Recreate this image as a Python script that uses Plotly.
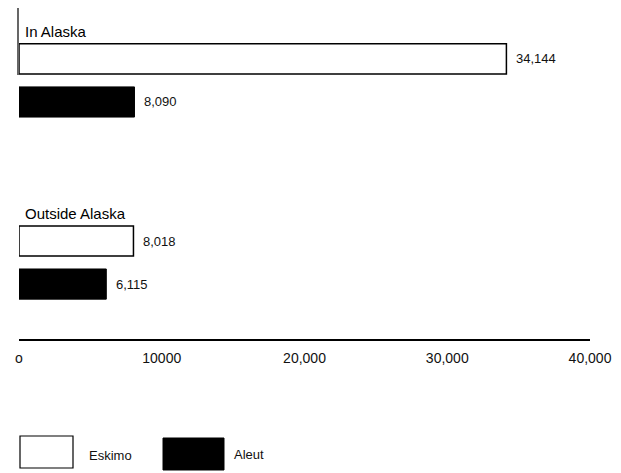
import plotly.graph_objects as go

groups = ["In Alaska", "Outside Alaska"]
eskimo = [34144, 8018]
aleut = [8090, 6115]
tick_vals = [0, 10000, 20000, 30000, 40000]
tick_text = ["o", "10000", "20,000", "30,000", "40,000"]

FONT = "Liberation Sans, Arial, sans-serif"

fig = go.Figure()
fig.add_trace(go.Bar(
    y=groups, x=eskimo, orientation="h", name="Eskimo",
    marker=dict(color="white", line=dict(color="black", width=1.5)),
    showlegend=False, hoverinfo="x+y",
))
fig.add_trace(go.Bar(
    y=groups, x=aleut, orientation="h", name="Aleut",
    marker=dict(color="black", line=dict(color="black", width=1)),
    showlegend=False, hoverinfo="x+y",
))

annotations = []
for i, g in enumerate(groups):
    annotations.append(dict(x=eskimo[i], y=g, text=f"{eskimo[i]:,}", xanchor="left",
                            yanchor="middle", showarrow=False, xshift=8, yshift=21.5,
                            font=dict(size=13, color="#111")))
    annotations.append(dict(x=aleut[i], y=g, text=f"{aleut[i]:,}", xanchor="left",
                            yanchor="middle", showarrow=False, xshift=8, yshift=-21.5,
                            font=dict(size=13, color="#111")))
for g in groups:
    annotations.append(dict(x=0, y=g, text=g, xanchor="left", yanchor="middle",
                            showarrow=False, xshift=4, yshift=49,
                            font=dict(size=15, color="black")))
annotations.append(dict(xref="paper", yref="paper", x=(87 - 19) / 571, y=-(455 - 339) / 329,
                        text="Eskimo", xanchor="left", yanchor="middle", showarrow=False,
                        font=dict(size=13, color="#111")))
annotations.append(dict(xref="paper", yref="paper", x=(232 - 19) / 571, y=-(454 - 339) / 329,
                        text="Aleut", xanchor="left", yanchor="middle", showarrow=False,
                        font=dict(size=13, color="#111")))

shapes = [
    dict(type="rect", xref="paper", yref="paper",
         x0=(20 - 19) / 571, x1=(73 - 19) / 571,
         y0=-(468 - 339) / 329, y1=-(436 - 339) / 329,
         line=dict(color="black", width=1.2), fillcolor="white"),
    dict(type="rect", xref="paper", yref="paper",
         x0=(163 - 19) / 571, x1=(224 - 19) / 571,
         y0=-(470 - 339) / 329, y1=-(438 - 339) / 329,
         line=dict(color="black", width=1), fillcolor="black"),
    dict(type="line", xref="paper", yref="paper",
         x0=-1 / 571, x1=-1 / 571, y0=(339 - 75) / 329, y1=(339 - 5) / 329,
         line=dict(color="black", width=1.2)),
]

# page body has an 8px margin, so the figure is shrunk and shifted by 8px
fig.update_layout(
    width=613, height=465,
    margin=dict(l=11, r=31, t=2, b=134, autoexpand=False),
    paper_bgcolor="white", plot_bgcolor="white",
    barmode="group", bargap=0.527, bargroupgap=0.3,
    font=dict(family=FONT, color="black"),
    annotations=annotations, shapes=shapes,
    xaxis=dict(range=[0, 40000], tickvals=tick_vals, ticktext=tick_text,
               showgrid=False, zeroline=False, showline=True, linecolor="black",
               linewidth=1.5, ticks="", ticklabelstandoff=5,
               tickfont=dict(size=14, color="#111")),
    yaxis=dict(range=[1.42, -0.387], showticklabels=False, showgrid=False,
               zeroline=False, showline=False, ticks=""),
)

fig.write_html("out.html")
